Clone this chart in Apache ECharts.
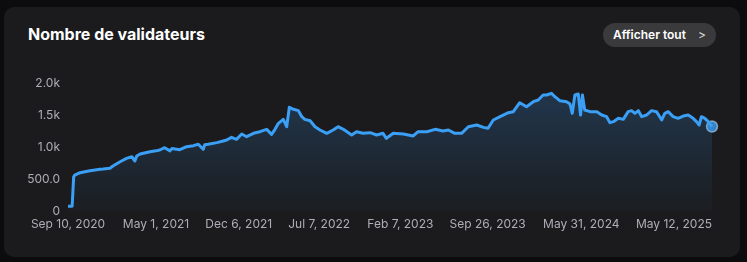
<!DOCTYPE html>
<html>
<head>
<meta charset="utf-8">
<script src="https://cdn.jsdelivr.net/npm/echarts@6/dist/echarts.min.js"></script>
<style>
html,body{margin:0;padding:0;width:747px;height:262px;background:#0c0c0e;overflow:hidden;font-family:Inter,"Noto Sans",sans-serif;}
#card{position:absolute;left:4px;top:7px;width:736px;height:250px;background:#1b1b1d;border-radius:10px;}
#title{position:absolute;left:28px;top:24px;color:#fff;font-size:16px;font-weight:700;letter-spacing:0;}
#btn{position:absolute;left:603px;top:23px;width:113px;height:24px;border-radius:12px;background:#3a3a3d;color:#fff;font-size:12px;font-weight:600;line-height:24px;box-sizing:border-box;padding-left:10px;}
#btn span{position:absolute;left:95px;top:0;font-weight:400;color:#ddd;}
#chart{position:absolute;left:0;top:0;width:747px;height:262px;}
</style>
</head>
<body>
<div id="card"></div>
<div id="title">Nombre de validateurs</div>
<div id="btn">Afficher tout<span>&gt;</span></div>
<div id="chart"></div>
<script>
const dates = [
'2020-09-10','2020-09-21','2020-09-25','2020-09-28','2020-10-12','2020-11-07','2020-12-04','2020-12-08','2020-12-12','2020-12-30',
'2021-01-07','2021-01-26','2021-02-12','2021-02-26','2021-03-06','2021-03-11','2021-03-20','2021-04-15','2021-05-01','2021-05-11',
'2021-05-24','2021-06-07','2021-06-12','2021-07-03','2021-07-21','2021-08-08','2021-08-21','2021-09-03','2021-09-07','2021-09-16',
'2021-10-09','2021-10-26','2021-11-04','2021-11-17','2021-11-30','2021-12-14','2021-12-27','2022-01-14','2022-01-31','2022-02-18',
'2022-03-03','2022-03-12','2022-03-21','2022-04-03','2022-04-12','2022-04-19','2022-04-30','2022-05-13','2022-05-22','2022-05-30',
'2022-06-13','2022-06-26','2022-07-09','2022-07-27','2022-08-13','2022-08-26','2022-09-09','2022-10-01','2022-10-14','2022-10-31',
'2022-11-19','2022-12-06','2022-12-23','2023-01-01','2023-01-19','2023-02-15','2023-03-13','2023-03-26','2023-04-18','2023-05-10',
'2023-05-31','2023-06-14','2023-07-01','2023-07-19','2023-08-06','2023-08-28','2023-09-15','2023-09-27','2023-10-11','2023-10-29',
'2023-11-20','2023-12-03','2023-12-20','2024-01-07','2024-01-25','2024-02-07','2024-02-20','2024-02-29','2024-03-13','2024-03-22',
'2024-04-04','2024-04-22','2024-05-01','2024-05-07','2024-05-14','2024-05-23','2024-05-29','2024-06-03','2024-06-09','2024-06-23',
'2024-07-11','2024-07-24','2024-08-06','2024-08-15','2024-08-24','2024-09-06','2024-09-19','2024-10-02','2024-10-11','2024-10-20',
'2024-10-29','2024-11-07','2024-11-20','2024-12-03','2024-12-16','2024-12-30','2025-01-07','2025-01-16','2025-01-29','2025-02-11',
'2025-02-25','2025-03-10','2025-03-23','2025-04-01','2025-04-08','2025-04-14','2025-04-23','2025-05-02','2025-05-12'
];
const validators = [
75,75,530,562,598,630,651,625,655,667,
703,770,823,848,781,860,890,927,940,953,
989,940,975,958,1005,1021,1042,964,1035,1042,
1068,1094,1109,1151,1120,1203,1161,1214,1239,1276,
1198,1276,1370,1432,1317,1620,1589,1568,1474,1432,
1411,1317,1266,1214,1266,1317,1276,1188,1239,1214,
1224,1188,1214,1136,1214,1203,1172,1239,1239,1276,
1250,1266,1214,1214,1317,1344,1307,1292,1422,1474,
1536,1552,1692,1630,1708,1734,1812,1812,1839,1786,
1724,1708,1672,1526,1812,1828,1500,1812,1578,1552,
1552,1500,1474,1380,1396,1448,1432,1552,1568,1526,
1568,1474,1500,1568,1552,1422,1526,1552,1474,1448,
1484,1500,1448,1396,1344,1474,1448,1396,1320
];
const xTickDates = ['2020-09-10','2021-05-01','2021-12-06','2022-07-07','2023-02-07','2023-09-26','2024-05-31','2025-05-12'];
const yTicks = [0,500,1000,1500,2000];
const yTickLabels = ['0','500.0','1.0k','1.5k','2.0k'];
const months = ['Jan','Feb','Mar','Apr','May','Jun','Jul','Aug','Sep','Oct','Nov','Dec'];

function ts(s){const p=s.split('-');return Date.UTC(+p[0],+p[1]-1,+p[2]);}
function fmt(v){const d=new Date(v);return months[d.getUTCMonth()]+' '+d.getUTCDate()+', '+d.getUTCFullYear();}
const seriesData = dates.map((d,i)=>[ts(d),validators[i]]);
const last = seriesData[seriesData.length-1];

const chart = echarts.init(document.getElementById('chart'), null, {renderer:'canvas'});
chart.setOption({
  backgroundColor:'transparent',
  animation:false,
  grid:{left:68,right:35,top:83,bottom:51,containLabel:false},
  xAxis:{
    type:'value',
    min:ts(dates[0]), max:ts(dates[dates.length-1]),
    axisLine:{show:false}, axisTick:{show:false}, splitLine:{show:false},
    axisLabel:{
      customValues:xTickDates.map(ts),
      color:'#aeaeb6', fontSize:12, fontFamily:'Inter', margin:7,
      alignMaxLabel:'right',
      formatter:fmt
    }
  },
  yAxis:{
    type:'value', min:0, max:2000, interval:500,
    axisLine:{show:false}, axisTick:{show:false}, splitLine:{show:false},
    axisLabel:{color:'#aeaeb6', fontSize:12, fontFamily:'Inter', margin:8,
      formatter:function(v){const i=yTicks.indexOf(v);return i>=0?yTickLabels[i]:'';}}
  },
  series:[{
    type:'line', data:seriesData, symbol:'none', smooth:false,
    lineStyle:{color:'#3b9ff5', width:3, join:'round'},
    areaStyle:{color:new echarts.graphic.LinearGradient(0,0,0,1,[
      {offset:0,color:'rgba(56,150,240,0.32)'},
      {offset:1,color:'rgba(56,150,240,0.03)'}])}
  },{
    type:'scatter', data:[last], symbol:'circle', symbolSize:11,
    itemStyle:{color:'#3b9ff5', borderColor:'rgba(190,215,240,0.75)', borderWidth:1.5}
  }]
});
</script>
</body>
</html>
